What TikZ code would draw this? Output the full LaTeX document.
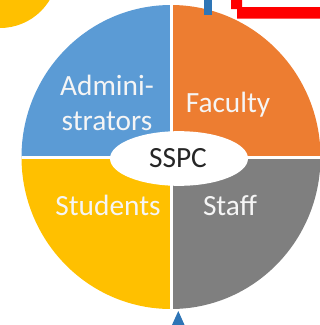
\documentclass[tikz,border=0pt]{standalone}
\usepackage{fontspec}
\setmainfont{Carlito}
\definecolor{cblue}{HTML}{5B9BD5}
\definecolor{corange}{HTML}{ED7D31}
\definecolor{cgrey}{HTML}{7F7F7F}
\definecolor{cyellow}{HTML}{FFC000}
\definecolor{cdark}{HTML}{2E75B6}
\definecolor{cred}{HTML}{FF0000}
\tikzset{
  seglabel/.style={text=white!96!black, font=\fontsize{22}{26}\selectfont, align=center, inner sep=0pt, anchor=base},
  hub/.style={fill=white, ellipse, minimum width=103.5pt, minimum height=41pt, inner sep=0pt},
  hublabel/.style={text=black!85, font=\fontsize{22}{26}\selectfont, inner sep=0pt, anchor=base}
}
\usetikzlibrary{shapes.geometric}
\begin{document}
\begin{tikzpicture}[x=0.75pt,y=-0.75pt]
\useasboundingbox (0,0) rectangle (320,325);
% yellow circle top-left
\fill[cyellow] (0,-30) circle [radius=58];
% pie
\begin{scope}
  \clip (171,157) ellipse [x radius=149.5, y radius=152];
  \fill[cblue] (0,-10) rectangle (171,157);
  \fill[corange] (171,-10) rectangle (330,157);
  \fill[cyellow] (0,157) rectangle (171,330);
  \fill[cgrey] (171,157) rectangle (330,330);
  \draw[white, line width=1.6pt] (171.5,-10) -- (171.5,330);
  \draw[white, line width=1.6pt] (0,157.5) -- (330,157.5);
\end{scope}
% labels
\node[seglabel] (admin) at (107,130) {Admini-\\strators};
\node[seglabel] (faculty) at (228,112) {Faculty};
\node[seglabel] (students) at (108,215) {Students};
\node[seglabel] (staff) at (230,215) {Staff};
% hub
\node[hub] (hub) at (179,158.5) {};
\node[hublabel] (sspc) at (178,167) {SSPC};
% blue bar top
\fill[cdark] (203.5,-2) rectangle (212,15);
% red frame corner
\fill[cred] (231,-2) -- (242,-2) -- (242,7) -- (322,7) -- (322,18.5) -- (237,18.5) -- (237,9) -- (231,9) -- cycle;
% blue triangle bottom
\fill[cdark] (171.5,326) -- (185,326) -- (178.3,311) -- cycle;
\end{tikzpicture}
\end{document}
